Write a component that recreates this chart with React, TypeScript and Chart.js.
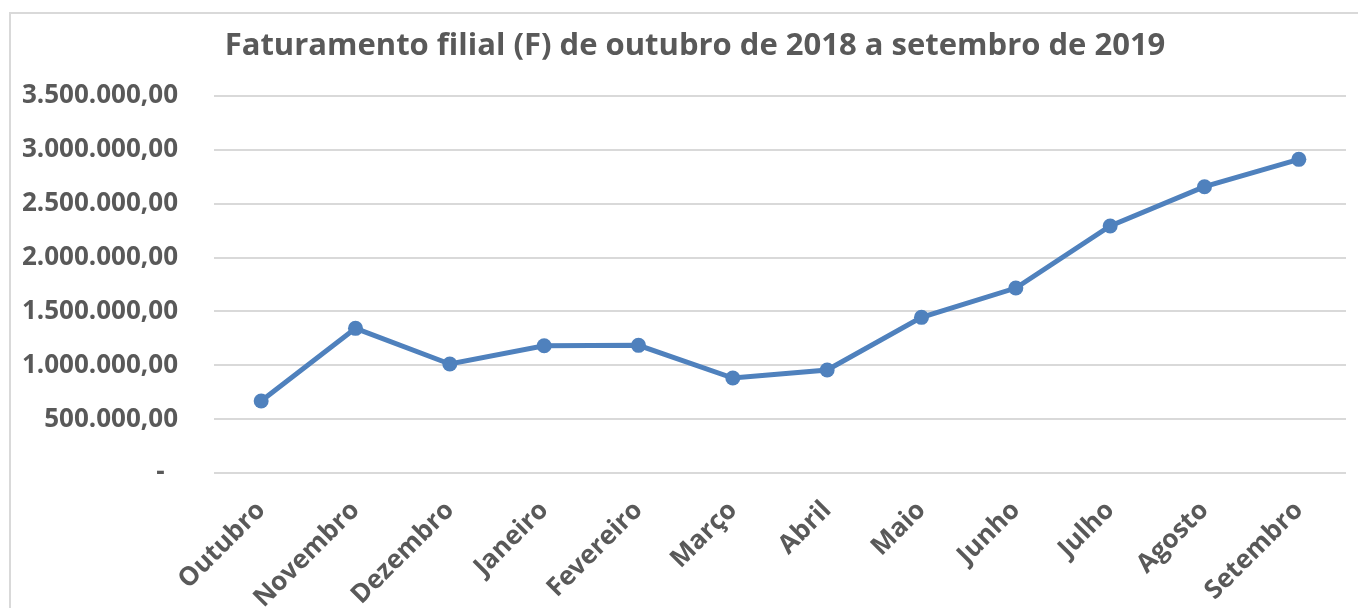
import React, { useEffect, useRef } from "react";
import { Chart, registerables } from "chart.js";

Chart.register(...registerables);

const TITLE = "Faturamento filial (F) de outubro de 2018 a setembro de 2019";
const MONTHS = ["Outubro", "Novembro", "Dezembro", "Janeiro", "Fevereiro", "Março", "Abril", "Maio", "Junho", "Julho", "Agosto", "Setembro"];
const REVENUE = [668000, 1343000, 1012000, 1182000, 1185000, 882000, 956000, 1445000, 1717000, 2293000, 2658000, 2912000];
const Y_MAX = 3500000;
const Y_STEP = 500000;

const formatBR = (v: number) =>
  v === 0
    ? "-  "
    : v.toLocaleString("pt-BR", { minimumFractionDigits: 2, maximumFractionDigits: 2 });

const FONT = "'Open Sans', sans-serif";
const GREY = "#595959";

export default function App() {
  const ref = useRef<HTMLCanvasElement | null>(null);
  useEffect(() => {
    if (!ref.current) return;
    const titlePlugin = {
      id: "customTitle",
      afterDraw(chart: any) {
        const ctx = chart.ctx;
        ctx.save();
        ctx.font = `700 31px ${FONT}`;
        ctx.fillStyle = GREY;
        ctx.textAlign = "center";
        ctx.textBaseline = "middle";
        ctx.fillText(TITLE, 695, 46);
        ctx.restore();
      },
    };
    const chart = new Chart(ref.current, {
      type: "line",
      data: {
        labels: MONTHS,
        datasets: [
          {
            data: REVENUE,
            borderColor: "#4F81BD",
            backgroundColor: "#4F81BD",
            borderWidth: 5,
            pointRadius: 7.5,
            pointHoverRadius: 7.5,
            pointBorderWidth: 0,
            tension: 0,
          },
        ],
      },
      options: {
        animation: false,
        responsive: false,
        layout: { padding: { top: 96, right: 12, left: 0, bottom: 0 } },
        plugins: { legend: { display: false }, title: { display: false }, tooltip: { enabled: false } },
        scales: {
          x: {
            offset: true,
            grid: { display: false, drawTicks: false },
            border: { display: false },
            ticks: {
              color: GREY,
              font: { family: FONT, size: 26, weight: "bold" },
              maxRotation: 45,
              minRotation: 45,
              padding: 22,
              autoSkip: false,
            },
            afterFit: (s: any) => {
              s.height = 135;
            },
          },
          y: {
            min: 0,
            max: Y_MAX,
            grid: { color: "#D9D9D9", lineWidth: 2, drawTicks: false },
            border: { display: false },
            ticks: {
              stepSize: Y_STEP,
              color: GREY,
              font: { family: FONT, size: 26, weight: "bold" },
              padding: 36,
              callback: (v: any) => formatBR(Number(v)),
            },
            afterFit: (s: any) => {
              s.width = 214;
            },
          },
        },
      },
      plugins: [titlePlugin],
    });
    return () => chart.destroy();
  }, []);
  return (
    <div style={{ position: "fixed", left: 0, top: 0, width: 1358, height: 608, background: "#fff", overflow: "hidden" }}>
      <div
        style={{
          position: "absolute",
          left: 9,
          top: 12,
          width: 1400,
          height: 650,
          border: "2px solid #D9D9D9",
        }}
      />
      <canvas ref={ref} width={1358} height={608} style={{ position: "absolute", left: 0, top: 0, display: "block" }} />
    </div>
  );
}
